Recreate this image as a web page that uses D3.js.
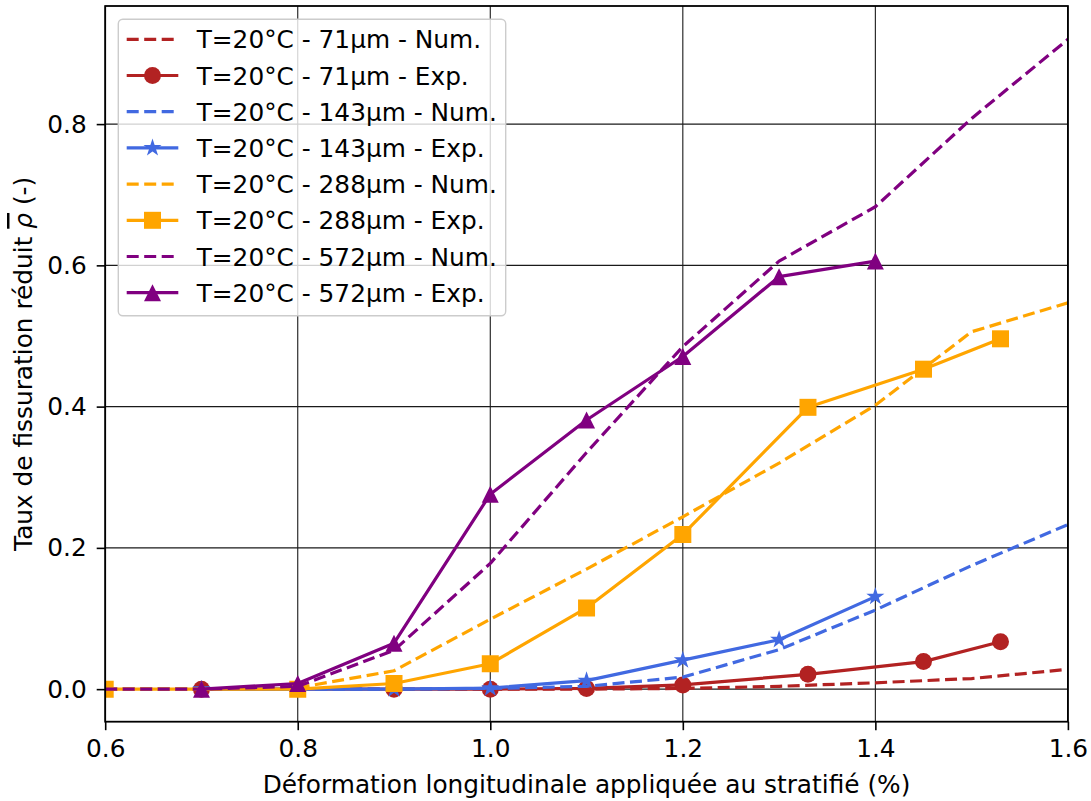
<!DOCTYPE html>
<html>
<head>
<meta charset="utf-8">
<script src="https://cdn.jsdelivr.net/npm/d3@7"></script>
<style>
  html, body { margin: 0; padding: 0; background: #fff; }
  svg { display: block; font-family: "DejaVu Sans", sans-serif; }
</style>
</head>
<body>
<svg id="chart" width="1091" height="801"></svg>
<script>
// ---- data ----
const xNum = [0.6, 0.7, 0.8, 0.9, 1.0, 1.1, 1.2, 1.3, 1.4, 1.5, 1.6];
const num71  = [0, 0, 0, 0, 0, 0, 0.001, 0.004, 0.009, 0.015, 0.028];
const num143 = [0, 0, 0, 0, 0.001, 0.004, 0.017, 0.056, 0.112, 0.175, 0.233];
const num288 = [0, 0, 0.002, 0.026, 0.099, 0.17, 0.244, 0.32, 0.402, 0.506, 0.547];
const num572 = [0, 0, 0.004, 0.055, 0.178, 0.335, 0.485, 0.606, 0.683, 0.808, 0.92];

const xExp71  = [0.7, 0.9, 1.0, 1.1, 1.2, 1.33, 1.45, 1.53];
const exp71   = [0, 0, 0, 0.001, 0.006, 0.021, 0.039, 0.067];
const xExp143 = [0.7, 0.9, 1.0, 1.1, 1.2, 1.3, 1.4];
const exp143  = [0, 0, 0.0015, 0.012, 0.041, 0.07, 0.131];
const xExp288 = [0.6, 0.8, 0.9, 1.0, 1.1, 1.2, 1.33, 1.45, 1.53];
const exp288  = [0, 0, 0.008, 0.036, 0.115, 0.219, 0.399, 0.453, 0.496];
const xExp572 = [0.7, 0.8, 0.9, 1.0, 1.1, 1.2, 1.3, 1.4];
const exp572  = [0, 0.008, 0.065, 0.276, 0.381, 0.471, 0.584, 0.606];

const legendLabels = [
  "T=20°C - 71µm - Num.", "T=20°C - 71µm - Exp.",
  "T=20°C - 143µm - Num.", "T=20°C - 143µm - Exp.",
  "T=20°C - 288µm - Num.", "T=20°C - 288µm - Exp.",
  "T=20°C - 572µm - Num.", "T=20°C - 572µm - Exp."
];
const xTicks = [0.6, 0.8, 1.0, 1.2, 1.4, 1.6];
const yTicks = [0.0, 0.2, 0.4, 0.6, 0.8];
const xLabel = "Déformation longitudinale appliquée au stratifié (%)";

// ---- series ----
const series = [
  {label: legendLabels[0], xs: xNum,    ys: num71,  color: "#b22222", dashed: true,  marker: null},
  {label: legendLabels[1], xs: xExp71,  ys: exp71,  color: "#b22222", dashed: false, marker: "circle"},
  {label: legendLabels[2], xs: xNum,    ys: num143, color: "#4169e1", dashed: true,  marker: null},
  {label: legendLabels[3], xs: xExp143, ys: exp143, color: "#4169e1", dashed: false, marker: "star"},
  {label: legendLabels[4], xs: xNum,    ys: num288, color: "#ffa500", dashed: true,  marker: null},
  {label: legendLabels[5], xs: xExp288, ys: exp288, color: "#ffa500", dashed: false, marker: "square"},
  {label: legendLabels[6], xs: xNum,    ys: num572, color: "#800080", dashed: true,  marker: null},
  {label: legendLabels[7], xs: xExp572, ys: exp572, color: "#800080", dashed: false, marker: "triangle"}
];

const FS = 24.8;
const svg = d3.select("#chart");
const L = 105.2, R = 1067.9, T = 6, B = 721.7;
const x = d3.scaleLinear().domain([0.6, 1.6]).range([L, R]);
const y = d3.scaleLinear().domain([-0.0461, 0.9672]).range([B, T]);

svg.append("defs").append("clipPath").attr("id", "clip")
  .append("rect").attr("x", L).attr("y", T).attr("width", R - L).attr("height", B - T);

// grid
const grid = svg.append("g");
grid.selectAll("line.gx").data(xTicks).join("line")
  .attr("x1", d => x(d)).attr("x2", d => x(d)).attr("y1", T).attr("y2", B)
  .attr("stroke", "#1a1a1a").attr("stroke-width", 1.1);
grid.selectAll("line.gy").data(yTicks).join("line")
  .attr("x1", L).attr("x2", R).attr("y1", d => y(d)).attr("y2", d => y(d))
  .attr("stroke", "#1a1a1a").attr("stroke-width", 1.1);

// axes
const fmt = d3.format(".1f");
const xAxis = svg.append("g").attr("transform", `translate(0,${B})`)
  .call(d3.axisBottom(x).tickValues(xTicks).tickFormat(fmt).tickSize(8.5).tickPadding(9));
const yAxis = svg.append("g").attr("transform", `translate(${L},0)`)
  .call(d3.axisLeft(y).tickValues(yTicks).tickFormat(fmt).tickSize(8.5).tickPadding(10));
[xAxis, yAxis].forEach(a => {
  a.select(".domain").remove();
  a.selectAll(".tick line").attr("stroke", "#000").attr("stroke-width", 1.6);
  a.selectAll(".tick text").attr("font-family", "DejaVu Sans").attr("font-size", FS).attr("fill", "#000");
});

// series
const markerPath = (type) => {
  if (type === "circle") return d3.symbol(d3.symbolCircle, Math.PI * 8.5 * 8.5)();
  if (type === "square") return "M-8.5,-8.5H8.5V8.5H-8.5Z";
  if (type === "triangle") return "M0,-8.5L-8.5,8.5L8.5,8.5Z";
  if (type === "star") {
    const Ro = 9.5, Ri = Ro * 0.381966;
    let p = "";
    for (let i = 0; i < 10; i++) {
      const r = i % 2 === 0 ? Ro : Ri;
      const a = -Math.PI / 2 + i * Math.PI / 5;
      p += (i === 0 ? "M" : "L") + (r * Math.cos(a)).toFixed(3) + "," + (r * Math.sin(a)).toFixed(3);
    }
    return p + "Z";
  }
  return null;
};

const plot = svg.append("g").attr("clip-path", "url(#clip)");
const line = d3.line().x(d => x(d[0])).y(d => y(d[1]));
series.forEach(s => {
  const pts = s.xs.map((v, i) => [v, s.ys[i]]);
  plot.append("path").datum(pts).attr("d", line)
    .attr("fill", "none").attr("stroke", s.color).attr("stroke-width", 3.2)
    .attr("stroke-linejoin", "round")
    .attr("stroke-dasharray", s.dashed ? "12,5.5" : null);
  if (s.marker) {
    plot.selectAll(null).data(pts).join("path")
      .attr("d", markerPath(s.marker))
      .attr("transform", d => `translate(${x(d[0])},${y(d[1])})`)
      .attr("fill", s.color);
  }
});

// spines
svg.append("rect").attr("x", L).attr("y", T).attr("width", R - L).attr("height", B - T)
  .attr("fill", "none").attr("stroke", "#000").attr("stroke-width", 1.8);

// axis labels
svg.append("text").attr("x", (L + R) / 2).attr("y", 792.5).attr("text-anchor", "middle")
  .attr("font-size", FS).attr("fill", "#000").text(xLabel);
const yl = svg.append("text").attr("transform", `translate(32,${(T + B) / 2}) rotate(-90)`)
  .attr("text-anchor", "middle").attr("font-size", FS).attr("fill", "#000");
yl.append("tspan").text("Taux de fissuration réduit ");
yl.append("tspan").attr("font-style", "italic").attr("text-decoration", "overline").text("ρ");
yl.append("tspan").text(" (-)");

// legend
const lg = svg.append("g");
lg.append("rect").attr("x", 118.3).attr("y", 19.3).attr("width", 387.4).attr("height", 296.4)
  .attr("rx", 4.5).attr("fill", "#fff").attr("fill-opacity", 0.8)
  .attr("stroke", "#cccccc").attr("stroke-width", 1.4);
series.forEach((s, i) => {
  const cy = 39.3 + i * 36.2;
  lg.append("line").attr("x1", 126.7).attr("x2", 178.3).attr("y1", cy).attr("y2", cy)
    .attr("stroke", s.color).attr("stroke-width", 3.2)
    .attr("stroke-dasharray", s.dashed ? "12,5.5" : null);
  if (s.marker) {
    lg.append("path").attr("d", markerPath(s.marker))
      .attr("transform", `translate(152.5,${cy})`).attr("fill", s.color);
  }
  lg.append("text").attr("x", 196.7).attr("y", cy + 9).attr("font-size", FS)
    .attr("fill", "#000").text(s.label);
});
</script>
</body>
</html>
